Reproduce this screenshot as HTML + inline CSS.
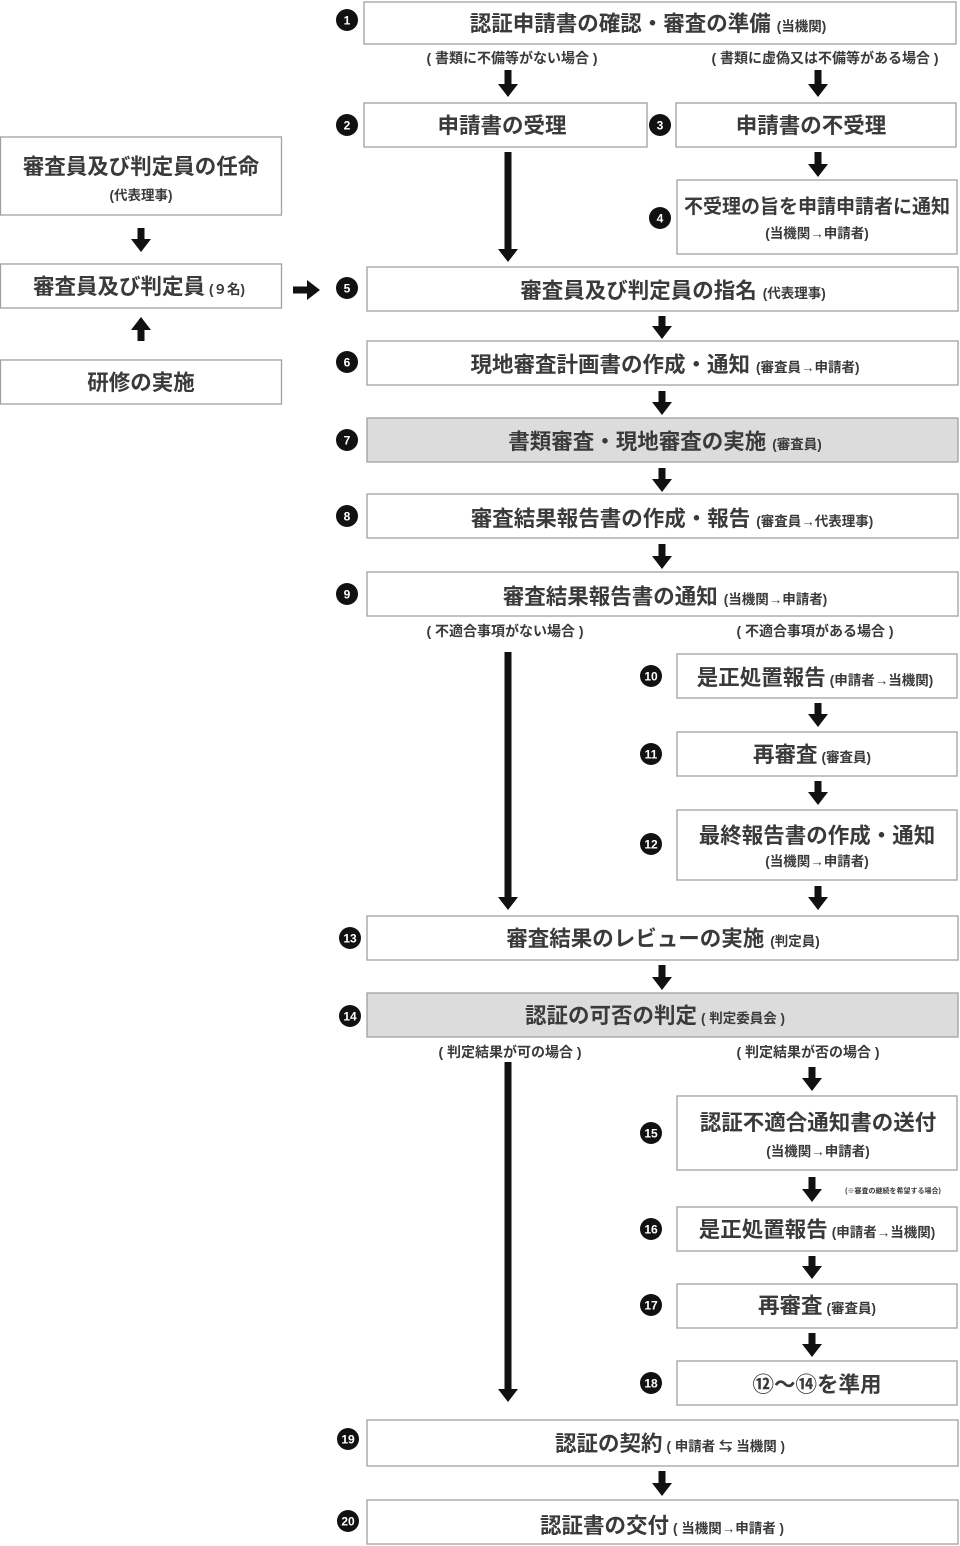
<!DOCTYPE html>
<html><head><meta charset="utf-8"><style>
html,body{margin:0;padding:0;background:#fff;}
svg{display:block;}
text{font-family:"Liberation Sans","Noto Sans CJK JP",sans-serif;fill:#3a3a3a;font-weight:700;}
.m{font-size:21.5px;}
.s{font-size:13.5px;}
.l{font-size:14px;}
.n{fill:#fff;font-size:12px;font-family:"Liberation Sans",sans-serif;}
rect{fill:#fff;stroke:#a0a0a0;stroke-width:1.3;}
rect.g{fill:#dcdcdc;}
line{stroke:#111;stroke-width:7;marker-end:url(#h);}
</style></head><body>
<svg width="960" height="1546" viewBox="0 0 960 1546" xmlns="http://www.w3.org/2000/svg">
<defs><marker id="h" viewBox="0 -10 13 20" refX="0" refY="0" markerUnits="userSpaceOnUse" markerWidth="13" markerHeight="20" orient="auto"><path d="M0,-10 L13,0 L0,10 z" fill="#111"/></marker></defs>

<rect x="364" y="2" width="592" height="42"/>
<rect x="364" y="103" width="283" height="44"/>
<rect x="676" y="103" width="280" height="44"/>
<rect x="677" y="180" width="280" height="74"/>
<rect x="0.5" y="137" width="281" height="78"/>
<rect x="0.5" y="264" width="281" height="44"/>
<rect x="0.5" y="360" width="281" height="44"/>
<rect x="367" y="267" width="591" height="44"/>
<rect x="367" y="341" width="591" height="44"/>
<rect class="g" x="367" y="418" width="591" height="44"/>
<rect x="367" y="494" width="591" height="44"/>
<rect x="367" y="572" width="591" height="44"/>
<rect x="677" y="654" width="280" height="44"/>
<rect x="677" y="732" width="280" height="44"/>
<rect x="677" y="810" width="280" height="70"/>
<rect x="367" y="916" width="591" height="44"/>
<rect class="g" x="367" y="993" width="591" height="44"/>
<rect x="677" y="1096" width="280" height="74"/>
<rect x="677" y="1207" width="280" height="44"/>
<rect x="677" y="1284" width="280" height="44"/>
<rect x="677" y="1361" width="280" height="44"/>
<rect x="367" y="1420" width="591" height="46"/>
<rect x="367" y="1500" width="591" height="44"/>

<line x1="508" y1="70" x2="508" y2="84"/>
<line x1="818" y1="70" x2="818" y2="84"/>
<line x1="818" y1="152" x2="818" y2="164"/>
<line x1="508" y1="152" x2="508" y2="249"/>
<line x1="141" y1="228" x2="141" y2="239"/>
<line x1="141" y1="341" x2="141" y2="330"/>
<line x1="293" y1="290" x2="307" y2="290"/>
<line x1="662" y1="316" x2="662" y2="326"/>
<line x1="662" y1="391" x2="662" y2="402"/>
<line x1="662" y1="468" x2="662" y2="479"/>
<line x1="662" y1="544" x2="662" y2="556"/>
<line x1="508" y1="652" x2="508" y2="897"/>
<line x1="818" y1="703" x2="818" y2="714"/>
<line x1="818" y1="781" x2="818" y2="792"/>
<line x1="818" y1="886" x2="818" y2="897"/>
<line x1="662" y1="965" x2="662" y2="977"/>
<line x1="508" y1="1062" x2="508" y2="1389"/>
<line x1="812" y1="1067" x2="812" y2="1078"/>
<line x1="812" y1="1177" x2="812" y2="1189"/>
<line x1="812" y1="1256" x2="812" y2="1266"/>
<line x1="812" y1="1333" x2="812" y2="1344"/>
<line x1="662" y1="1471" x2="662" y2="1483"/>

<g fill="#111">
<circle cx="347" cy="20" r="11"/><circle cx="347" cy="125" r="11"/><circle cx="660" cy="125" r="11"/>
<circle cx="660" cy="218" r="11"/><circle cx="347" cy="288" r="11"/><circle cx="347" cy="362" r="11"/>
<circle cx="347" cy="440" r="11"/><circle cx="347" cy="516" r="11"/><circle cx="347" cy="594" r="11"/>
<circle cx="651" cy="676" r="11"/><circle cx="651" cy="754" r="11"/><circle cx="651" cy="844" r="11"/>
<circle cx="350" cy="938" r="11"/><circle cx="350" cy="1016" r="11"/><circle cx="651" cy="1133" r="11"/>
<circle cx="651" cy="1229" r="11"/><circle cx="651" cy="1305" r="11"/><circle cx="651" cy="1383" r="11"/>
<circle cx="348" cy="1439" r="11"/><circle cx="348" cy="1521" r="11"/>
</g>
<g text-anchor="middle">
<text class="n" x="347" y="24.5">1</text><text class="n" x="347" y="129.5">2</text><text class="n" x="660" y="129.5">3</text>
<text class="n" x="660" y="222.5">4</text><text class="n" x="347" y="292.5">5</text><text class="n" x="347" y="366.5">6</text>
<text class="n" x="347" y="444.5">7</text><text class="n" x="347" y="520.5">8</text><text class="n" x="347" y="598.5">9</text>
<text class="n" x="651" y="680.5">10</text><text class="n" x="651" y="758.5">11</text><text class="n" x="651" y="848.5">12</text>
<text class="n" x="350" y="942.5">13</text><text class="n" x="350" y="1020.5">14</text><text class="n" x="651" y="1137.5">15</text>
<text class="n" x="651" y="1233.5">16</text><text class="n" x="651" y="1309.5">17</text><text class="n" x="651" y="1387.5">18</text>
<text class="n" x="348" y="1443.5">19</text><text class="n" x="348" y="1525.5">20</text>
</g>

<g text-anchor="middle">
<text class="m" x="648" y="31">認証申請書の確認・審査の準備<tspan class="s" dx="6">(当機関)</tspan></text>
<text class="l" x="512" y="63">( 書類に不備等がない場合 )</text>
<text class="l" x="825" y="63">( 書類に虚偽又は不備等がある場合 )</text>
<text class="m" x="502" y="133">申請書の受理</text>
<text class="m" x="811" y="133">申請書の不受理</text>
<text x="817" y="213" style="font-size:19.5px" textLength="266" lengthAdjust="spacingAndGlyphs">不受理の旨を申請申請者に通知</text>
<text class="s" x="817" y="238">(当機関→申請者)</text>
<text class="m" x="141" y="174">審査員及び判定員の任命</text>
<text class="s" x="141" y="200">(代表理事)</text>
<text class="m" x="139" y="294">審査員及び判定員<tspan class="s" dx="4">(９名)</tspan></text>
<text class="m" x="141" y="390">研修の実施</text>
<text class="m" x="673" y="298">審査員及び判定員の指名<tspan class="s" dx="6">(代表理事)</tspan></text>
<text class="m" x="665" y="372">現地審査計画書の作成・通知<tspan class="s" dx="6">(審査員→申請者)</tspan></text>
<text class="m" x="665" y="449">書類審査・現地審査の実施<tspan class="s" dx="6">(審査員)</tspan></text>
<text class="m" x="672" y="526">審査結果報告書の作成・報告<tspan class="s" dx="6">(審査員→代表理事)</tspan></text>
<text class="m" x="665" y="604">審査結果報告書の通知<tspan class="s" dx="6">(当機関→申請者)</tspan></text>
<text class="l" x="505" y="636">( 不適合事項がない場合 )</text>
<text class="l" x="815" y="636">( 不適合事項がある場合 )</text>
<text class="m" x="815" y="685">是正処置報告<tspan class="s" dx="4">(申請者→当機関)</tspan></text>
<text class="m" x="812" y="762">再審査<tspan class="s" dx="4">(審査員)</tspan></text>
<text class="m" x="817" y="843">最終報告書の作成・通知</text>
<text class="s" x="817" y="866">(当機関→申請者)</text>
<text class="m" x="663" y="946">審査結果のレビューの実施<tspan class="s" dx="6">(判定員)</tspan></text>
<text class="m" x="655" y="1023">認証の可否の判定<tspan class="s" dx="4">( 判定委員会 )</tspan></text>
<text class="l" x="510" y="1057">( 判定結果が可の場合 )</text>
<text class="l" x="808" y="1057">( 判定結果が否の場合 )</text>
<text class="m" x="818" y="1130">認証不適合通知書の送付</text>
<text class="s" x="818" y="1156">(当機関→申請者)</text>
<text x="893" y="1193" style="font-size:7px">(※審査の継続を希望する場合)</text>
<text class="m" x="817" y="1237">是正処置報告<tspan class="s" dx="4">(申請者→当機関)</tspan></text>
<text class="m" x="817" y="1313">再審査<tspan class="s" dx="4">(審査員)</tspan></text>
<text class="m" x="817" y="1392">⑫〜⑭を準用</text>
<text class="m" x="670" y="1451">認証の契約<tspan class="s" dx="4">( 申請者 ⇆ 当機関 )</tspan></text>
<text class="m" x="662" y="1533">認証書の交付<tspan class="s" dx="4">( 当機関→申請者 )</tspan></text>
</g>
</svg>
</body></html>
